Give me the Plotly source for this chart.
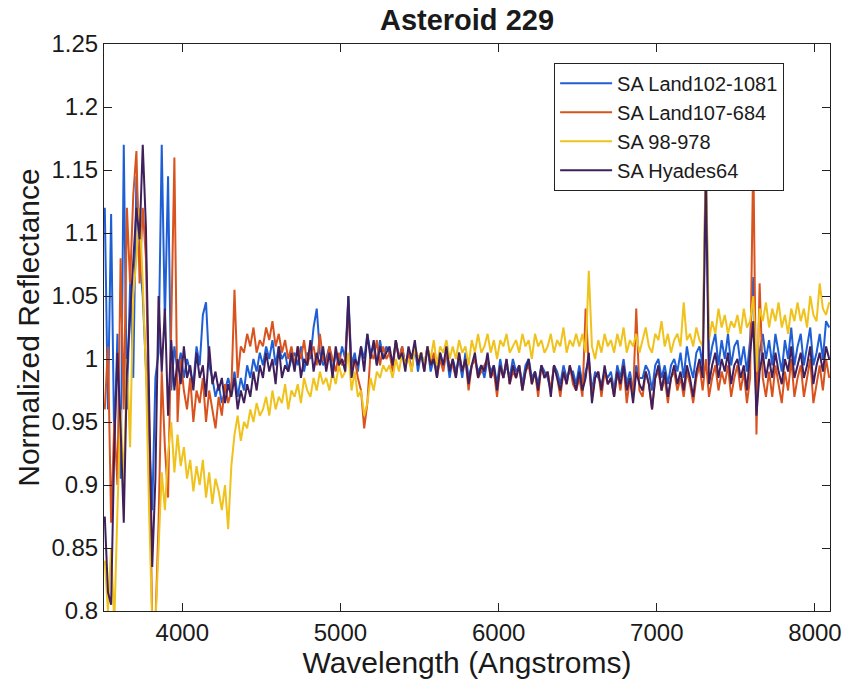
import numpy as np
import plotly.graph_objects as go

# Wavelength sampling grid (Angstroms), 20 A steps
wavelength = np.arange(3510, 8091, 20)

land102_1081 = [
    1.120, 0.960, 1.115, 0.930, 1.020, 0.905, 1.170, 0.960, 1.060, 0.985,
    1.145, 1.080, 1.050, 0.990, 0.930, 0.880, 0.985, 1.005, 1.170, 1.030,
    1.145, 0.975, 1.010, 0.990, 1.005, 0.985, 1.000, 0.990, 0.980, 1.010,
    0.995, 1.035, 1.045, 0.995, 0.985, 0.970, 0.980, 0.965, 0.975, 0.985,
    0.975, 0.990, 0.970, 0.985, 0.975, 0.995, 0.985, 1.000, 0.990, 1.005,
    0.995, 1.010, 1.000, 1.015, 0.995, 1.010, 1.000, 1.005, 0.990, 1.000,
    1.005, 0.995, 1.010, 0.990, 1.005, 1.000, 1.025, 1.040, 1.005, 0.995,
    1.000, 1.010, 0.990, 1.005, 0.995, 1.010, 1.000, 1.050, 0.995, 1.005,
    0.990, 1.010, 1.000, 1.020, 1.005, 1.010, 0.995, 1.015, 1.000, 1.010,
    1.005, 0.995, 1.015, 1.000, 1.010, 0.995, 1.005, 1.000, 1.010, 0.990,
    1.005, 0.995, 1.010, 0.990, 1.000, 0.990, 1.005, 0.995, 1.005, 0.985,
    1.000, 0.990, 1.000, 0.985, 1.005, 0.985, 0.995, 1.000, 0.990, 0.995,
    0.985, 1.000, 0.990, 0.995, 0.980, 1.000, 0.985, 0.995, 0.985, 1.000,
    0.990, 0.995, 0.980, 0.995, 1.000, 0.985, 0.990, 0.980, 0.995, 0.990,
    0.985, 0.975, 0.995, 0.990, 0.980, 0.995, 0.985, 0.990, 0.990, 0.980,
    0.995, 0.980, 0.990, 1.000, 0.975, 0.990, 0.985, 0.980, 0.990, 0.985,
    0.990, 0.975, 0.995, 0.985, 1.000, 0.980, 0.990, 0.975, 0.995, 0.985,
    0.985, 0.995, 0.990, 0.975, 0.995, 1.000, 0.985, 0.995, 0.980, 0.995,
    1.000, 0.990, 1.005, 0.985, 1.010, 0.995, 0.985, 1.005, 1.010, 0.995,
    1.160, 0.995, 1.010, 1.020, 0.995, 1.015, 1.000, 1.020, 0.995, 1.010,
    1.015, 0.995, 1.010, 0.990, 1.015, 1.065, 0.960, 1.005, 1.020, 1.000,
    1.015, 0.995, 1.020, 1.005, 0.990, 1.015, 1.000, 1.025, 0.995, 1.010,
    1.020, 0.995, 1.010, 1.025, 0.995, 1.005, 1.020, 1.000, 1.030, 1.025,
]

land107_684 = [
    0.960, 1.010, 0.870, 0.950, 0.900, 1.080, 0.960, 1.120, 1.060, 1.130,
    1.165, 1.060, 1.120, 1.080, 0.950, 0.790, 0.790, 0.870, 0.990, 0.930,
    0.890, 1.040, 1.160, 0.950, 1.000, 0.975, 0.960, 0.985, 0.950, 0.975,
    0.965, 0.985, 0.950, 0.975, 0.960, 0.945, 0.970, 0.955, 0.980, 0.965,
    0.975, 1.055, 0.985, 1.010, 1.005, 1.020, 1.010, 1.025, 1.005, 1.015,
    1.010, 1.025, 1.015, 1.030, 1.010, 1.020, 1.005, 1.015, 1.000, 1.010,
    0.995, 1.010, 1.000, 1.015, 0.995, 1.005, 1.010, 0.995, 1.020, 1.000,
    0.995, 1.010, 1.000, 0.990, 1.005, 0.995, 1.000, 1.040, 0.990, 1.000,
    0.985, 0.975, 0.945, 0.965, 1.005, 1.000, 1.015, 0.995, 1.010, 1.000,
    1.005, 0.990, 1.015, 1.000, 1.010, 0.995, 1.005, 0.990, 1.010, 1.000,
    1.005, 0.990, 1.010, 0.995, 1.005, 0.985, 1.000, 0.990, 1.005, 0.995,
    0.995, 0.985, 1.005, 0.990, 1.000, 0.975, 0.995, 1.000, 0.985, 0.990,
    0.995, 1.000, 0.985, 0.990, 0.970, 0.995, 0.985, 1.000, 0.980, 0.990,
    0.985, 0.995, 0.975, 0.990, 0.995, 0.980, 0.990, 0.970, 0.995, 0.985,
    0.990, 0.975, 0.995, 0.985, 0.970, 0.990, 0.980, 0.995, 0.980, 0.975,
    0.985, 0.970, 1.040, 0.995, 0.970, 0.985, 0.990, 0.970, 0.990, 0.980,
    0.985, 0.970, 0.990, 0.975, 0.995, 0.965, 0.985, 0.970, 1.040, 0.975,
    0.970, 0.990, 0.980, 0.960, 0.985, 0.990, 0.975, 0.985, 0.965, 0.985,
    0.990, 0.975, 0.985, 0.970, 0.990, 0.980, 0.965, 0.985, 0.995, 0.975,
    1.000, 0.970, 0.985, 0.995, 0.975, 0.990, 0.980, 0.995, 0.970, 0.985,
    0.995, 0.975, 0.990, 0.965, 0.985, 1.165, 0.940, 1.060, 0.985, 0.970,
    0.990, 0.970, 0.995, 0.980, 0.965, 0.990, 0.975, 1.000, 0.970, 0.985,
    0.995, 0.970, 0.985, 1.000, 0.965, 0.980, 0.995, 0.975, 1.000, 0.985,
]

sa_98_978 = [
    0.840, 0.800, 0.850, 0.790, 0.880, 0.960, 0.900, 1.000, 0.930, 1.050,
    1.080, 1.120, 1.060, 0.990, 0.880, 0.790, 0.790, 0.850, 0.910, 0.880,
    0.925, 0.950, 0.910, 0.940, 0.915, 0.930, 0.905, 0.920, 0.895, 0.915,
    0.900, 0.920, 0.890, 0.910, 0.885, 0.905, 0.895, 0.880, 0.900, 0.865,
    0.915, 0.940, 0.955, 0.935, 0.950, 0.945, 0.960, 0.950, 0.965, 0.955,
    0.960, 0.970, 0.955, 0.975, 0.960, 0.970, 0.965, 0.980, 0.960, 0.975,
    0.970, 0.980, 0.965, 0.985, 0.975, 0.970, 0.985, 0.975, 0.990, 0.980,
    0.985, 0.975, 0.990, 0.980, 0.995, 0.985, 0.990, 1.005, 0.975, 0.990,
    0.970, 0.975, 0.955, 0.965, 0.985, 0.975, 0.990, 0.985, 0.995, 0.990,
    0.995, 0.985, 1.000, 0.990, 1.005, 0.995, 1.000, 0.990, 1.010, 1.000,
    1.005, 0.995, 1.010, 1.000, 1.015, 0.995, 1.010, 1.005, 1.015, 1.000,
    1.010, 1.000, 1.015, 1.005, 1.010, 0.995, 1.015, 1.005, 1.020, 1.005,
    1.010, 1.020, 1.005, 1.015, 1.000, 1.015, 1.010, 1.020, 1.005, 1.010,
    1.015, 1.005, 1.020, 1.010, 1.015, 1.000, 1.020, 1.010, 1.015, 1.005,
    1.010, 1.020, 1.005, 1.015, 1.010, 1.025, 1.005, 1.015, 1.010, 1.020,
    1.010, 1.020, 1.005, 1.070, 1.010, 1.000, 1.015, 1.005, 1.020, 1.010,
    1.015, 1.005, 1.020, 1.010, 1.025, 1.005, 1.015, 1.010, 1.020, 1.005,
    1.015, 1.025, 1.010, 1.005, 1.020, 1.015, 1.030, 1.010, 1.020, 1.005,
    1.015, 1.020, 1.010, 1.045, 1.015, 1.020, 1.010, 1.025, 1.015, 1.010,
    1.165, 1.015, 1.030, 1.020, 1.040, 1.025, 1.035, 1.020, 1.030, 1.025,
    1.035, 1.020, 1.040, 1.025, 1.030, 1.050, 0.990, 1.040, 1.030, 1.045,
    1.025, 1.040, 1.030, 1.045, 1.025, 1.035, 1.020, 1.040, 1.030, 1.045,
    1.030, 1.040, 1.025, 1.050, 1.035, 1.030, 1.060, 1.040, 1.035, 1.045,
]

hyades64 = [
    0.875, 0.815, 0.805, 0.930, 1.005, 0.945, 0.870, 0.990, 1.035, 1.080,
    1.120, 1.095, 1.170, 1.105, 0.960, 0.835, 0.905, 1.050, 0.990, 1.040,
    0.955, 1.015, 0.975, 1.000, 0.980, 1.010, 0.985, 0.995, 0.975, 1.005,
    0.985, 0.995, 0.970, 1.010, 0.980, 0.990, 0.975, 0.985, 0.965, 0.980,
    0.970, 0.985, 0.960, 0.975, 0.965, 0.980, 0.970, 0.990, 0.975, 0.995,
    0.985, 1.005, 0.990, 1.000, 0.980, 1.010, 0.985, 0.995, 0.990, 1.005,
    0.990, 1.010, 0.985, 1.000, 0.995, 1.015, 0.990, 1.005, 0.995, 1.010,
    0.990, 1.005, 0.985, 1.010, 0.995, 1.000, 0.990, 1.050, 0.985, 1.000,
    0.995, 1.010, 0.990, 1.020, 1.000, 1.015, 0.995, 1.010, 1.000, 1.005,
    1.010, 0.995, 1.015, 1.000, 1.005, 0.990, 1.010, 1.000, 1.015, 0.995,
    1.005, 0.990, 1.010, 0.995, 1.000, 0.985, 1.005, 0.995, 1.010, 0.990,
    1.000, 0.985, 1.005, 0.990, 1.000, 0.980, 0.995, 1.005, 0.985, 0.995,
    0.990, 1.005, 0.985, 0.995, 0.975, 0.995, 0.985, 1.000, 0.980, 0.995,
    0.985, 0.995, 0.975, 0.990, 1.000, 0.980, 0.990, 0.975, 0.995, 0.985,
    0.990, 0.970, 0.995, 0.985, 0.975, 0.990, 0.980, 0.995, 0.985, 0.975,
    0.990, 0.975, 0.985, 1.005, 0.965, 0.985, 0.990, 0.975, 0.995, 0.980,
    0.985, 0.970, 0.990, 0.980, 0.995, 0.975, 0.985, 0.965, 0.990, 0.980,
    0.975, 0.990, 0.980, 0.960, 0.985, 0.995, 0.975, 0.990, 0.970, 0.985,
    0.995, 0.980, 0.990, 0.975, 0.995, 0.985, 0.970, 0.990, 1.000, 0.985,
    1.145, 0.980, 0.995, 1.005, 0.985, 1.000, 0.990, 1.005, 0.980, 0.995,
    1.000, 0.985, 0.995, 0.975, 1.005, 1.030, 0.955, 0.990, 1.005, 0.985,
    1.000, 0.985, 1.005, 0.990, 0.980, 1.000, 0.990, 1.010, 0.985, 0.995,
    1.005, 0.985, 0.995, 1.010, 0.980, 0.995, 1.005, 0.990, 1.010, 1.000,
]

series_names = ["SA Land102-1081", "SA Land107-684", "SA 98-978", "SA Hyades64"]
series_values = [land102_1081, land107_684, sa_98_978, hyades64]
series_colors = ["#1f5fd6", "#d9531e", "#f0c21c", "#3f1f5c"]

x_ticks = [4000, 5000, 6000, 7000, 8000]
y_ticks = [0.8, 0.85, 0.9, 0.95, 1.0, 1.05, 1.1, 1.15, 1.2, 1.25]
y_tick_labels = ["0.8", "0.85", "0.9", "0.95", "1", "1.05", "1.1", "1.15", "1.2", "1.25"]

fig = go.Figure()
for name, vals, col in zip(series_names, series_values, series_colors):
    fig.add_trace(go.Scatter(
        x=wavelength, y=vals, mode="lines", name=name,
        line=dict(color=col, width=2),
    ))

font_family = "Liberation Sans, Arial, Helvetica, sans-serif"
axis_common = dict(
    showline=True, linecolor="#222", linewidth=1, mirror="allticks",
    ticks="inside", ticklen=8, tickcolor="#222", tickwidth=1,
    showgrid=False, zeroline=False,
    tickfont=dict(size=24, color="#1a1a1a", family=font_family),
)

fig.update_layout(
    width=854, height=679,
    margin=dict(l=104, r=16, t=44, b=66),
    paper_bgcolor="white", plot_bgcolor="white",
    font=dict(family=font_family, color="#1a1a1a"),
    title=dict(text="<b>Asteroid 229</b>", x=0.5, xanchor="center",
               xref="paper", y=1, yref="paper", yanchor="bottom",
               pad=dict(b=14), font=dict(size=29, color="#1a1a1a")),
    xaxis=dict(range=[3505, 8095], tickvals=x_ticks,
               title=dict(text="Wavelength (Angstroms)", font=dict(size=30), standoff=0),
               **axis_common),
    yaxis=dict(range=[0.8, 1.25], tickvals=y_ticks, ticktext=y_tick_labels,
               title=dict(text="Normalized Reflectance", font=dict(size=30), standoff=2),
               **axis_common),
    legend=dict(x=0.62, y=0.967, xanchor="left", yanchor="top",
                bgcolor="white", bordercolor="#222", borderwidth=1,
                font=dict(size=20, color="#1a1a1a"), itemwidth=52,
                tracegroupgap=0),
    showlegend=True,
)

fig.write_html("out.html")
